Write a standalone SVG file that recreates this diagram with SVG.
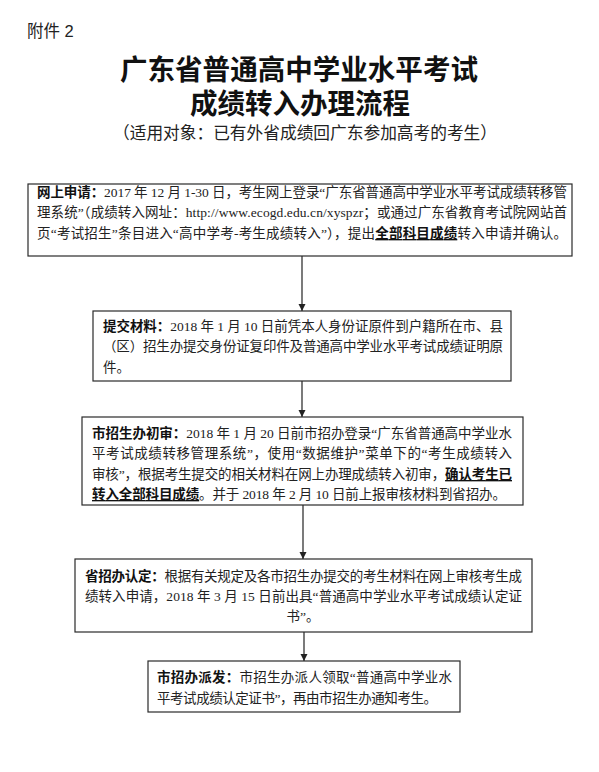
<svg xmlns="http://www.w3.org/2000/svg" width="599" height="772" viewBox="0 0 599 772">
<style>
.bg{fill:#ffffff}
.box{fill:#ffffff;stroke:#2a2a2a;stroke-width:1.2}
.t{font-family:"Liberation Serif","Noto Sans CJK SC",serif;font-size:13.5px;fill:#222}
.b{font-family:"Noto Sans CJK SC",sans-serif;font-weight:bold;fill:#111}
.u{text-decoration:underline}
.title{font-family:"Liberation Sans","Noto Sans CJK SC",sans-serif;font-weight:bold;font-size:28px;fill:#111}
.sub{font-family:"Liberation Sans","Noto Sans CJK SC",sans-serif;font-size:17px;fill:#222}
.conn{stroke:#222;stroke-width:1.2;fill:none}
</style>
<defs>
<marker id="ah" markerUnits="userSpaceOnUse" markerWidth="8" markerHeight="8" refX="7" refY="4" orient="auto">
<path d="M0,0.5 L7,4 L0,7.5 z" fill="#222"/>
</marker>
</defs>
<rect class="bg" x="0" y="0" width="599" height="772"/>

<g id="header">
<text x="27" y="37" style="font-family:'Liberation Sans','Noto Sans CJK SC',sans-serif;font-size:16.5px;fill:#222">附件 2</text>
<text class="title" x="299" y="80" text-anchor="middle" textLength="358" lengthAdjust="spacingAndGlyphs">广东省普通高中学业水平考试</text>
<text class="title" x="300" y="114" text-anchor="middle" textLength="220" lengthAdjust="spacingAndGlyphs">成绩转入办理流程</text>
<text class="sub" x="305" y="139" text-anchor="middle" textLength="384" lengthAdjust="spacingAndGlyphs">（适用对象：已有外省成绩回广东参加高考的考生）</text>
</g>

<g id="connectors">
<line class="conn" x1="302" y1="256" x2="302" y2="311" marker-end="url(#ah)"/>
<line class="conn" x1="302" y1="381" x2="302" y2="417" marker-end="url(#ah)"/>
<line class="conn" x1="303" y1="505" x2="303" y2="559" marker-end="url(#ah)"/>
<line class="conn" x1="304" y1="632" x2="304" y2="661" marker-end="url(#ah)"/>
</g>

<g id="node1">
<rect class="box" x="28" y="184" width="544" height="72"/>
<text class="t" x="37" y="197" textLength="530" lengthAdjust="spacing"><tspan class="b">网上申请：</tspan>2017 年 12 月 1-30 日，考生网上登录“广东省普通高中学业水平考试成绩转移管</text>
<text class="t" x="37" y="217" textLength="530" lengthAdjust="spacing">理系统”（成绩转入网址：http://www.ecogd.edu.cn/xyspzr；或通过广东省教育考试院网站首</text>
<text class="t" x="37" y="238" textLength="530" lengthAdjust="spacing">页“考试招生”条目进入“高中学考-考生成绩转入”），提出<tspan class="b u">全部科目成绩</tspan>转入申请并确认。</text>
</g>

<g id="node2">
<rect class="box" x="93" y="311" width="418" height="70"/>
<text class="t" x="103" y="331" textLength="400" lengthAdjust="spacing"><tspan class="b">提交材料：</tspan>2018 年 1 月 10 日前凭本人身份证原件到户籍所在市、县</text>
<text class="t" x="103" y="351" textLength="400" lengthAdjust="spacing">（区）招生办提交身份证复印件及普通高中学业水平考试成绩证明原</text>
<text class="t" x="103" y="372">件。</text>
</g>

<g id="node3">
<rect class="box" x="82" y="417" width="441" height="88"/>
<text class="t" x="92" y="438" textLength="420" lengthAdjust="spacing"><tspan class="b">市招生办初审：</tspan>2018 年 1 月 20 日前市招办登录“广东省普通高中学业水</text>
<text class="t" x="92" y="458" textLength="420" lengthAdjust="spacing">平考试成绩转移管理系统”，使用“数据维护”菜单下的“考生成绩转入</text>
<text class="t" x="92" y="479" textLength="420" lengthAdjust="spacing">审核”，根据考生提交的相关材料在网上办理成绩转入初审，<tspan class="b u">确认考生已</tspan></text>
<text class="t" x="92" y="499" textLength="414" lengthAdjust="spacing"><tspan class="b u">转入全部科目成绩</tspan>。并于 2018 年 2 月 10 日前上报审核材料到省招办。</text>
</g>

<g id="node4">
<rect class="box" x="75" y="559" width="457" height="73"/>
<text class="t" x="85" y="581" textLength="437" lengthAdjust="spacing"><tspan class="b">省招办认定：</tspan>根据有关规定及各市招生办提交的考生材料在网上审核考生成</text>
<text class="t" x="85" y="601" textLength="437" lengthAdjust="spacing">绩转入申请，2018 年 3 月 15 日前出具“普通高中学业水平考试成绩认定证</text>
<text class="t" x="303" y="621" text-anchor="middle">书”。</text>
</g>

<g id="node5">
<rect class="box" x="148" y="661" width="312" height="51"/>
<text class="t" x="157" y="682" textLength="295" lengthAdjust="spacing"><tspan class="b">市招办派发：</tspan>市招生办派人领取“普通高中学业水</text>
<text class="t" x="157" y="703" textLength="280" lengthAdjust="spacing">平考试成绩认定证书”，再由市招生办通知考生。</text>
</g>
</svg>
